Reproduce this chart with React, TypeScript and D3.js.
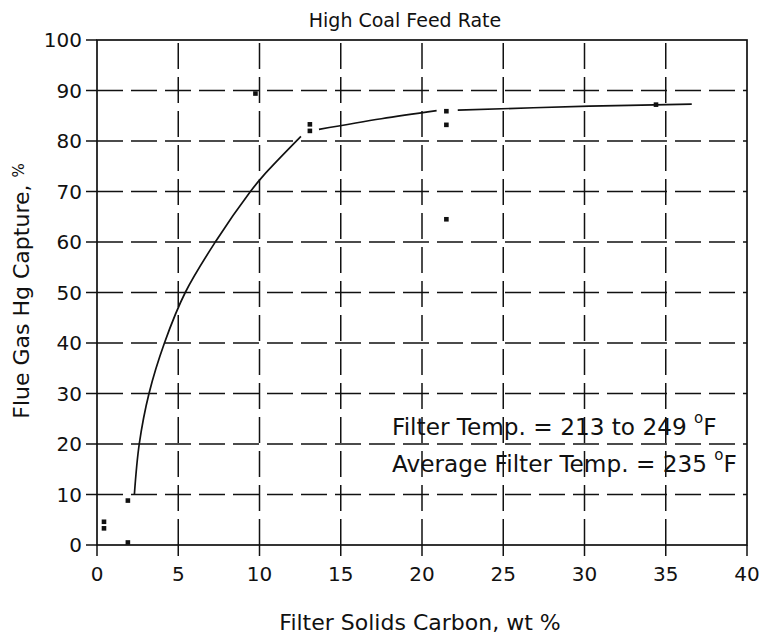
import React from "react";
import * as d3 from "d3";

// Measured samples: filter solids carbon (wt %) vs flue gas Hg capture (%)
const carbonWt = [0.43, 0.43, 1.9, 1.9, 9.75, 13.1, 13.1, 21.5, 21.5, 21.5, 34.4];
const hgCapture = [4.6, 3.3, 8.8, 0.5, 89.4, 83.3, 82.0, 85.9, 83.2, 64.5, 87.2];

// Hand-fitted trend, drawn as three pieces
const trendLow: [number, number][] = [
  [2.3, 10], [2.6, 20], [3.2, 30], [4.15, 40], [5.43, 50],
  [7.28, 60], [9.44, 70], [10.2, 73], [12.55, 80.9],
];
const trendMid: [number, number][] = [[13.66, 82.3], [17.5, 84.4], [20.9, 86.0]];
const trendHigh: [number, number][] = [[22.2, 86.1], [30.3, 86.9], [36.6, 87.3]];

const xTicks = [0, 5, 10, 15, 20, 25, 30, 35, 40];
const yTicks = [0, 10, 20, 30, 40, 50, 60, 70, 80, 90, 100];

const title = "High Coal Feed Rate";
const xTitle = "Filter Solids Carbon, wt %";
const yTitle = "Flue Gas Hg Capture, ";
const noteRange = ["Filter Temp. = 213 to 249  ", "F"];
const noteAvg = ["Average Filter Temp. = 235  ", "F"];

const W = 761;
const H = 637;
const left = 97;
const right = 747;
const top = 40;
const bottom = 545;
const FONT = "'DejaVu Sans', sans-serif";

export default function App() {
  const x = d3.scaleLinear().domain([0, 40]).range([left, right]);
  const y = d3.scaleLinear().domain([0, 100]).range([bottom, top]);
  const line = d3
    .line<[number, number]>()
    .x((d) => x(d[0]))
    .y((d) => y(d[1]))
    .curve(d3.curveCatmullRom.alpha(0.5));

  const dash = "26,8";

  return (
    <div style={{ position: "fixed", left: 0, top: 0, background: "#fff" }}>
      <svg width={W} height={H} style={{ display: "block" }}>
        <rect width={W} height={H} fill="#fff" />
        <text x={405} y={27} textAnchor="middle" fontFamily={FONT} fontSize={19} fill="#111">
          {title}
        </text>

        {/* dashed grid */}
        {yTicks.filter((t) => t > 0 && t < 100).map((t) => (
          <line key={"gy" + t} x1={left} x2={right} y1={y(t)} y2={y(t)}
            stroke="#111" strokeWidth={1.5} strokeDasharray={dash} />
        ))}
        {xTicks.filter((t) => t > 0 && t < 40).map((t) => (
          <line key={"gx" + t} x1={x(t)} x2={x(t)} y1={bottom} y2={top}
            stroke="#111" strokeWidth={1.5} strokeDasharray={dash} />
        ))}

        {/* frame */}
        <rect x={left} y={top} width={right - left} height={bottom - top}
          fill="none" stroke="#111" strokeWidth={1.7} />

        {/* ticks and labels */}
        {xTicks.map((t) => (
          <g key={"xt" + t}>
            <line x1={x(t)} x2={x(t)} y1={bottom} y2={bottom + 11} stroke="#111" strokeWidth={1.5} />
            <text x={x(t)} y={581} textAnchor="middle" fontFamily={FONT} fontSize={20} fill="#111">
              {t}
            </text>
          </g>
        ))}
        {yTicks.map((t) => (
          <g key={"yt" + t}>
            <line x1={left - 11} x2={left} y1={y(t)} y2={y(t)} stroke="#111" strokeWidth={1.5} />
            <text x={82} y={y(t)} dy="0.36em" textAnchor="end" fontFamily={FONT} fontSize={20} fill="#111">
              {t}
            </text>
          </g>
        ))}

        <text x={420} y={630} textAnchor="middle" fontFamily={FONT} fontSize={22} fill="#111">
          {xTitle}
        </text>
        <text transform="translate(29,291) rotate(-90)" textAnchor="middle" fontFamily={FONT}
          fontSize={22} fill="#111">
          {yTitle}
          <tspan fontSize={15} dy={-5}>%</tspan>
        </text>

        {/* trend */}
        {[trendLow, trendMid, trendHigh].map((seg, i) => (
          <path key={"tr" + i} d={line(seg) || ""} fill="none" stroke="#111" strokeWidth={1.7} />
        ))}

        {/* samples */}
        {carbonWt.map((c, i) => (
          <rect key={"p" + i} x={x(c) - 2.3} y={y(hgCapture[i]) - 2.3} width={4.6} height={4.6} fill="#111" />
        ))}

        {/* annotations */}
        <text x={392} y={435} fontFamily={FONT} fontSize={23.2} fill="#111">
          {noteRange[0]}
          <tspan fontSize={15} dy={-12}>o</tspan>
          <tspan dy={12}>{noteRange[1]}</tspan>
        </text>
        <text x={392} y={472} fontFamily={FONT} fontSize={23.2} fill="#111">
          {noteAvg[0]}
          <tspan fontSize={15} dy={-12}>o</tspan>
          <tspan dy={12}>{noteAvg[1]}</tspan>
        </text>
      </svg>
    </div>
  );
}
